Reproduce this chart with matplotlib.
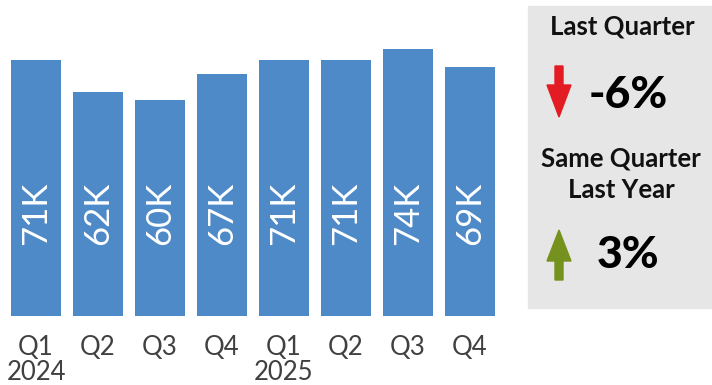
import matplotlib
matplotlib.use("Agg")
import matplotlib.pyplot as plt
from matplotlib.patches import Rectangle, Polygon

quarters = ["Q1\n2024", "Q2", "Q3", "Q4", "Q1\n2025", "Q2", "Q3", "Q4"]
values = [71, 62, 60, 67, 71, 71, 74, 69]
labels = ["71K", "62K", "60K", "67K", "71K", "71K", "74K", "69K"]
kpi_titles = ["Last Quarter", "Same Quarter\nLast Year"]
kpi_values = ["-6%", "3%"]

W, H = 712, 385
fig = plt.figure(figsize=(W / 100, H / 100), dpi=100)
FONT = "Lato"

# bar chart axes in pixel coordinates
left, right = 5, 501
bottom_px, top_px = 315.7, 27.7
ax = fig.add_axes([left / W, 1 - bottom_px / H, (right - left) / W, (bottom_px - top_px) / H])
x = list(range(len(values)))
ax.bar(x, values, width=0.806, color="#4e89c8")
ax.set_xlim(-0.5, 7.5)
ax.set_ylim(0, 80)
for xi, lab in zip(x, labels):
    ax.text(xi, 28.5, lab, rotation=90, ha="center", va="center", color="white",
            fontsize=25, family=FONT)
ax.set_xticks(x)
ax.set_xticklabels(quarters, fontsize=18.5, color="#404040", family=FONT, linespacing=1.0)
ax.tick_params(axis="x", length=0, pad=14)
ax.set_yticks([])
for s in ax.spines.values():
    s.set_visible(False)

# overlay for KPI panel (pixel coords)
ov = fig.add_axes([0, 0, 1, 1])
ov.set_xlim(0, W)
ov.set_ylim(H, 0)
ov.axis("off")
ov.add_patch(Rectangle((528, 6), 184, 302, color="#e6e6e6", zorder=0))

ov.text(622, 27, kpi_titles[0], ha="center", va="center", fontsize=18.5, family=FONT,
        fontweight="bold", color="#111111")
ov.text(628, 95, kpi_values[0], ha="center", va="center", fontsize=32, family=FONT,
        fontweight="black", color="black")
ov.text(621, 174, kpi_titles[1], ha="center", va="center", fontsize=18.5, family=FONT,
        fontweight="bold", color="#111111", linespacing=1.38)
ov.text(628, 255, kpi_values[1], ha="center", va="center", fontsize=32, family=FONT,
        fontweight="black", color="black")

def arrow(cx, ytail, ytip, headstart, color):
    sw, hw = 4, 12
    pts = [(cx - sw, ytail), (cx + sw, ytail), (cx + sw, headstart), (cx + hw, headstart),
           (cx, ytip), (cx - hw, headstart), (cx - sw, headstart)]
    ov.add_patch(Polygon(pts, closed=True, color=color, zorder=2))

arrow(559, 66, 117, 85, "#e31b23")
arrow(559, 280, 230, 261, "#76921e")

fig.savefig("out.png", dpi=100)
